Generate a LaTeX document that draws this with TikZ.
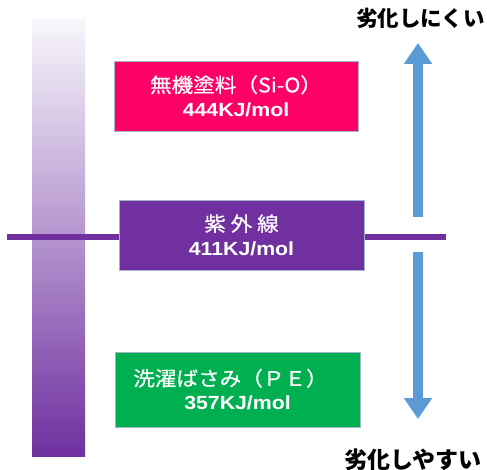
\documentclass[tikz,border=0pt]{standalone}
\usepackage{fontspec}
\setmainfont{Liberation Sans}
\newfontfamily\jp{Noto Sans CJK JP}
\newfontfamily\jpbox[FakeBold=0.6,FakeStretch=1.08]{Noto Sans CJK JP}
\newfontfamily\num[FakeStretch=1.12]{Liberation Sans}
\usetikzlibrary{arrows.meta}
\definecolor{bartop}{HTML}{F8F7FC}
\definecolor{uvpurple}{HTML}{7030A0}
\definecolor{inorgpink}{HTML}{FF0066}
\definecolor{pegreen}{HTML}{00B050}
\definecolor{arrowblue}{HTML}{5B9BD5}
\definecolor{boxedge}{HTML}{A3B5CC}
\begin{document}
\begin{tikzpicture}[x=1pt,y=-1pt,
  box/.style={draw=boxedge, line width=0.8pt, inner sep=0pt, text=white, align=center,
    font=\fontsize{20}{24}\selectfont},
  uvline/.style={draw=uvpurple, line width=6pt},
  bluearrow/.style={draw=arrowblue, line width=10pt, -{Triangle[width=27pt,length=21pt]}},
  sidelabel/.style={anchor=west, inner sep=0pt, font=\jp\bfseries\fontsize{23}{26}\selectfont}
]
\useasboundingbox (0,0) rectangle (487,470);
% gradient bar
\shade[top color=bartop, bottom color=uvpurple] (32,19) rectangle (85,456);
% UV line
\coordinate (lineL) at (7,237);
\coordinate (lineR) at (446,237);
\draw[uvline] (lineL) -- (lineR);
% boxes
\node[box, fill=inorgpink, minimum width=244pt, minimum height=70pt] (inorg) at (236,96)
  {{\jpbox 無機塗料（Si-O）}\\{\num\bfseries\fontsize{19}{24}\selectfont 444KJ/mol}};
\node[box, fill=uvpurple, minimum width=245pt, minimum height=70pt] (uv) at (241.5,235)
  {{\jpbox 紫 外 線}\\{\num\bfseries\fontsize{19}{24}\selectfont 411KJ/mol}};
\node[box, fill=pegreen, minimum width=245pt, minimum height=75pt] (pe) at (237.5,389.5)
  {{\jpbox 洗濯ばさみ（ＰＥ）}\hspace*{14pt}\\{\num\bfseries\fontsize{19}{24}\selectfont 357KJ/mol}};
% arrows
\coordinate (upS) at (418,217);
\coordinate (upE) at (418,43);
\coordinate (dnS) at (418,252);
\coordinate (dnE) at (418,419);
\draw[bluearrow] (upS) -- (upE);
\draw[bluearrow] (dnS) -- (dnE);
% labels
\node[sidelabel, font=\jp\bfseries\fontsize{21.5}{26}\selectfont] (hard) at (356,18) {劣化しにくい};
\node[sidelabel] (easy) at (344,460) {劣化しやすい};
\end{tikzpicture}
\end{document}
